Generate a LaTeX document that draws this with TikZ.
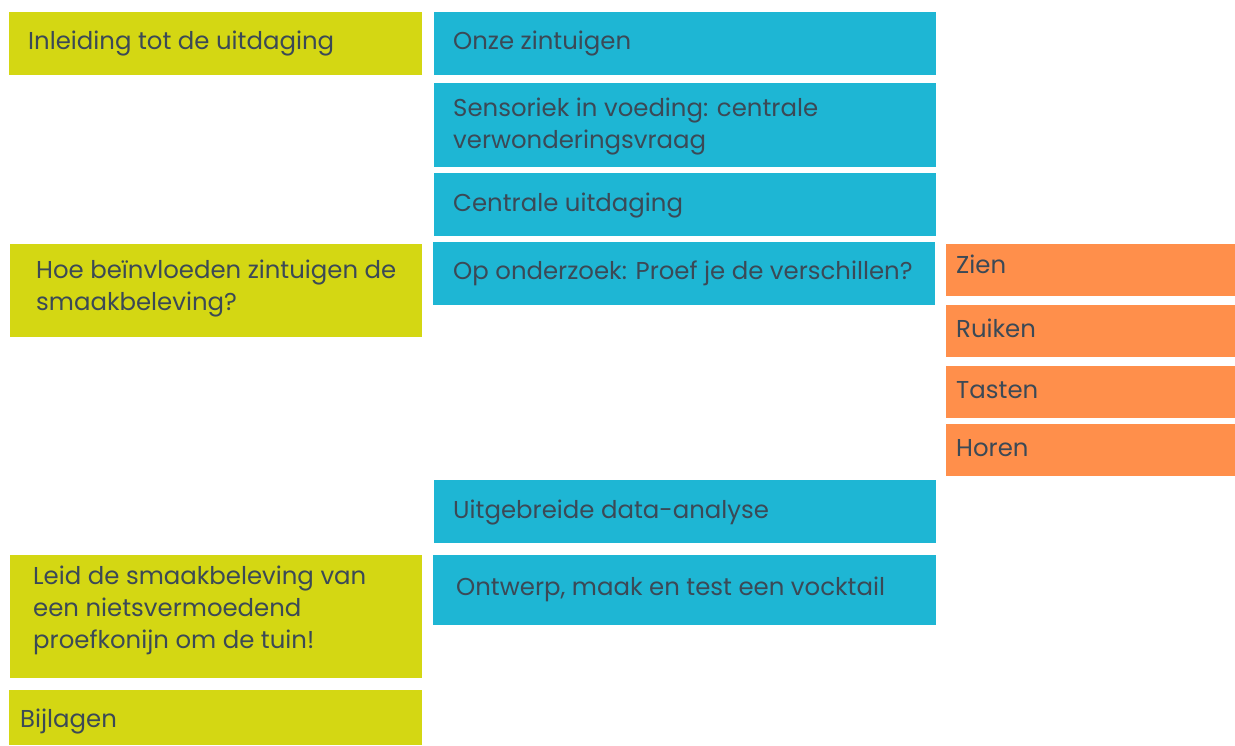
\documentclass[tikz,border=0pt]{standalone}
\usepackage{fontspec}
\setmainfont{Poppins}
\definecolor{chaptergreen}{HTML}{D4D713}
\definecolor{partblue}{HTML}{1EB6D4}
\definecolor{senseorange}{HTML}{FF8F4B}
\definecolor{ink}{HTML}{3B4956}

\begin{document}
\begin{tikzpicture}[x = 1pt, y = -1pt,
    box/.style = {anchor = north west, inner sep = 0pt, outer sep = 0pt},
    chapter/.style = {box, fill = chaptergreen},
    part/.style = {box, fill = partblue, minimum width = 502},
    sense/.style = {box, fill = senseorange, minimum width = 289, minimum height = 52},
    label/.style = {anchor = base west, inner sep = 0pt, text = ink, align = left,
                    font = \fontsize{24.4}{32}\selectfont}]
  \useasboundingbox (0, 0) rectangle (1235, 745);
  % left column (labels sit on their last line)
  \node [chapter, minimum width = 413, minimum height = 63] (intro) at (9, 12) {};
  \node [chapter, minimum width = 412, minimum height = 93] (question) at (10, 244) {};
  \node [chapter, minimum width = 412, minimum height = 123] (trick) at (10, 555) {};
  \node [chapter, minimum width = 413, minimum height = 55] (annex) at (9, 690) {};
  \node [label] (intro-t) at (28, 49) {Inleiding tot de uitdaging};
  \node [label] (question-t) at (36, 310) {Hoe beïnvloeden zintuigen de\\smaakbeleving?};
  \node [label] (trick-t) at (33, 648) {Leid de smaakbeleving van\\een nietsvermoedend\\proefkonijn om de tuin!};
  \node [label] (annex-t) at (20, 727) {Bijlagen};
  % middle column
  \node [part, minimum height = 63] (senses) at (434, 12) {};
  \node [part, minimum height = 84] (wonder) at (434, 83) {};
  \node [part, minimum height = 63] (challenge) at (434, 173) {};
  \node [part, minimum height = 63] (research) at (433, 242) {};
  \node [part, minimum height = 63] (analysis) at (434, 480) {};
  \node [part, minimum height = 70, minimum width = 503] (design) at (433, 555) {};
  \node [label] (senses-t) at (453, 49) {Onze zintuigen};
  \node [label] (wonder-t) at (453, 148) {Sensoriek in voeding: centrale\\verwonderingsvraag};
  \node [label] (challenge-t) at (453, 211) {Centrale uitdaging};
  \node [label] (research-t) at (453, 279) {Op onderzoek: Proef je de verschillen?};
  \node [label] (analysis-t) at (453, 518) {Uitgebreide data-analyse};
  \node [label] (design-t) at (456, 595) {Ontwerp, maak en test een vocktail};
  % right column
  \foreach \name/\top/\base/\word in {zien/244/273/Zien, ruiken/305/337/Ruiken,
                                      tasten/366/398/Tasten, horen/424/456/Horen} {
    \node [sense] (\name) at (946, \top) {};
    \node [label] (\name-t) at (956, \base) {\word};
  }
\end{tikzpicture}
\end{document}
